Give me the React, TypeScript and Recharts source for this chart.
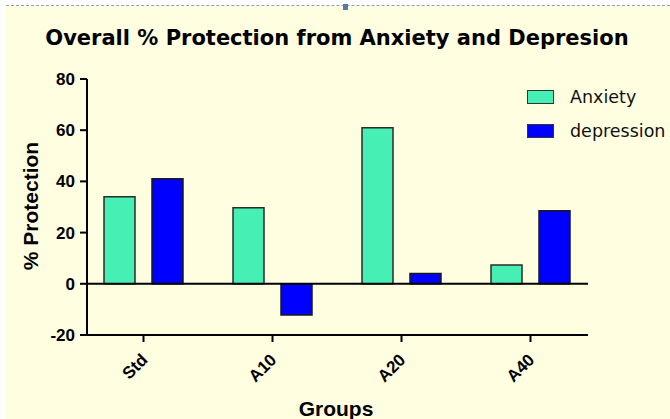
import React from "react";
import { BarChart, Bar, XAxis, YAxis, ReferenceLine } from "recharts";

const groups = ["Std", "A10", "A20", "A40"];
const anxiety = [34, 29.7, 61, 7.3];
const depression = [41, -12.2, 4, 28.5];
const yTicks = [-20, 0, 20, 40, 60, 80];

const seriesNames = ["Anxiety", "depression"];
const COLORS = ["#46EFB3", "#0000FF"];
const FONT = "'DejaVu Sans', Arial, sans-serif";
const ARIAL = "'Liberation Sans', Arial, sans-serif";

const data = groups.map((g, i) => ({
  name: g,
  anxiety: anxiety[i],
  depression: depression[i],
}));

const XTick = (props: any) => {
  const { x, y, payload } = props;
  return (
    <g transform={`translate(${x},${y})`}>
      <text
        x={5}
        y={17}
        textAnchor="end"
        transform="rotate(-45 5 17)"
        fontFamily={ARIAL}
        fontWeight="bold"
        fontSize={17}
        fill="#000"
      >
        {payload.value}
      </text>
    </g>
  );
};

const App: React.FC = () => {
  return (
    <div
      style={{
        position: "absolute",
        left: 0,
        top: 0,
        width: 670,
        height: 419,
        background: "#fff",
        overflow: "hidden",
      }}
    >
      {/* pale yellow slide area with dashed border on top */}
      <div
        style={{
          position: "absolute",
          left: 6,
          top: 5,
          width: 664,
          height: 414,
          background: "#FFFEE1",
          borderTop: "1px dashed #8FA0BA",
        }}
      />
      <div
        style={{
          position: "absolute",
          left: 343,
          top: 4,
          width: 5,
          height: 6,
          background: "#5B78A8",
        }}
      />

      <div
        style={{
          position: "absolute",
          left: 0,
          top: 26,
          width: 674,
          textAlign: "center",
          fontFamily: FONT,
          fontWeight: "bold",
          fontSize: 21,
          color: "#000",
        }}
      >
        Overall % Protection from Anxiety and Depresion
      </div>

      <div
        style={{
          position: "absolute",
          left: 31,
          top: 206,
          transform: "translate(-50%, -50%) rotate(-90deg)",
          whiteSpace: "nowrap",
          fontFamily: ARIAL,
          fontWeight: "bold",
          fontSize: 21,
          color: "#000",
        }}
      >
        % Protection
      </div>

      <div
        style={{
          position: "absolute",
          left: 0,
          top: 397,
          width: 672,
          textAlign: "center",
          fontFamily: ARIAL,
          fontWeight: "bold",
          fontSize: 21,
          color: "#000",
        }}
      >
        Groups
      </div>

      {/* legend */}
      {seriesNames.map((name, i) => (
        <div
          key={name}
          style={{
            position: "absolute",
            left: 527,
            top: 87 + i * 34,
            display: "flex",
            alignItems: "center",
            whiteSpace: "nowrap",
            fontFamily: FONT,
            fontSize: 17.5,
            color: "#111",
          }}
        >
          <span
            style={{
              display: "inline-block",
              width: 25,
              height: 12,
              background: COLORS[i],
              border: "1px solid #333",
              marginRight: 16,
            }}
          />
          {name}
        </div>
      ))}

      <div style={{ position: "absolute", left: 0, top: 0 }}>
        <BarChart
          width={670}
          height={419}
          data={data}
          margin={{ top: 79, right: 82, bottom: 54, left: 27 }}
          barSize={31}
          barGap={17}
        >
          <XAxis
            dataKey="name"
            height={30}
            padding={{ left: -8, right: -7 }}
            axisLine={{ stroke: "#000", strokeWidth: 2 }}
            tickLine={{ stroke: "#000", strokeWidth: 2 }}
            tickSize={7}
            tick={<XTick />}
            interval={0}
          />
          <YAxis
            width={60}
            domain={[-20, 80]}
            ticks={yTicks}
            allowDataOverflow
            axisLine={{ stroke: "#000", strokeWidth: 2 }}
            tickLine={{ stroke: "#000", strokeWidth: 2 }}
            tickSize={7}
            tickMargin={5}
            tick={{
              fontFamily: ARIAL,
              fontWeight: "bold",
              fontSize: 17,
              fill: "#000",
            }}
          />
          <ReferenceLine y={0} stroke="#000" strokeWidth={2} />
          <Bar
            dataKey="anxiety"
            name={seriesNames[0]}
            fill={COLORS[0]}
            stroke="#2b2b2b"
            strokeWidth={1.5}
            isAnimationActive={false}
          />
          <Bar
            dataKey="depression"
            name={seriesNames[1]}
            fill={COLORS[1]}
            stroke="#1a1a1a"
            strokeWidth={1.5}
            isAnimationActive={false}
          />
        </BarChart>
      </div>
    </div>
  );
};

export default App;
